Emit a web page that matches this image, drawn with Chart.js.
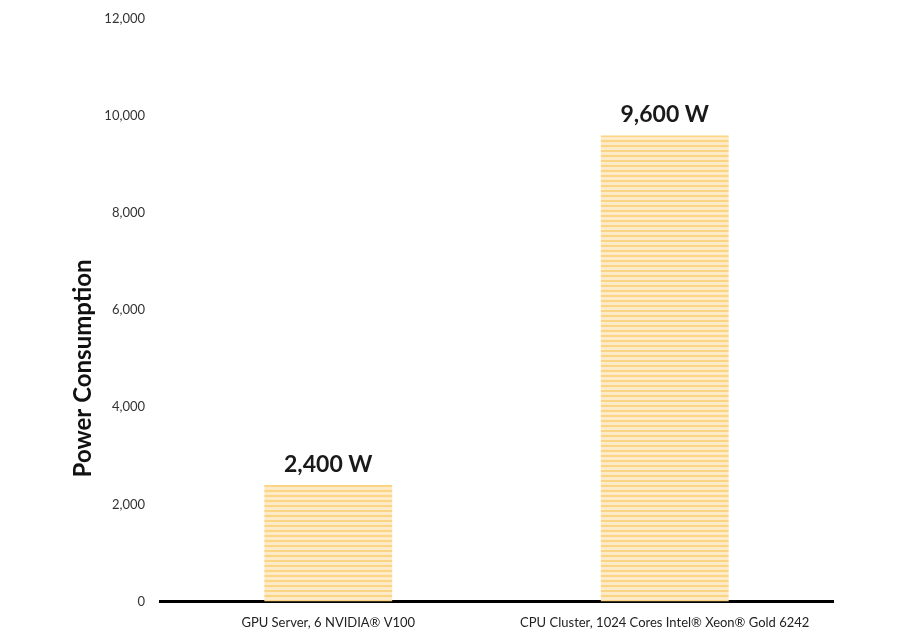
<!DOCTYPE html>
<html>
<head>
<meta charset="utf-8">
<script src="https://cdn.jsdelivr.net/npm/chart.js@4"></script>
<style>
  html, body { margin: 0; padding: 0; background: #fff; }
  #wrap { width: 898px; height: 641px; }
</style>
</head>
<body>
<div id="wrap"><canvas id="myChart" width="898" height="641"></canvas></div>
<script>
const labels = [
    'GPU Server, 6 NVIDIA\u00AE V100',
    'CPU Cluster, 1024 Cores Intel\u00AE Xeon\u00AE Gold 6242'
];
const power = [2400, 9600];
const valueLabels = ['2,400 W', '9,600 W'];
const yTitle = 'Power Consumption';

// striped fill like the original bars
function stripes() {
    const c = document.createElement('canvas');
    c.width = 8;
    c.height = 5;
    const ctx = c.getContext('2d');
    ctx.fillStyle = '#fdebc8';
    ctx.fillRect(0, 0, 8, 5);
    ctx.fillStyle = '#fcd584';
    ctx.fillRect(0, 0, 8, 2);
    return ctx.createPattern(c, 'repeat');
}

const barLabels = {
    id: 'barLabels',
    afterDatasetsDraw(chart) {
        const ctx = chart.ctx;
        const meta = chart.getDatasetMeta(0);
        ctx.save();
        ctx.font = 'bold 23px Lato, "Open Sans", sans-serif';
        ctx.fillStyle = '#1a1a1a';
        ctx.textAlign = 'center';
        ctx.textBaseline = 'bottom';
        meta.data.forEach((bar, i) => {
            ctx.fillText(valueLabels[i], bar.x, bar.y - 9);
        });
        // axis title sits lower than centre in the original
        const y = chart.scales.y;
        ctx.translate(83, y.getPixelForValue(4800));
        ctx.rotate(-Math.PI / 2);
        ctx.font = 'bold 24px Lato, "Open Sans", sans-serif';
        ctx.fillStyle = '#111';
        ctx.textBaseline = 'middle';
        ctx.fillText(yTitle, 0, 0);
        ctx.restore();
    }
};

const data = {
    labels: labels,
    datasets: [{
        data: power,
        backgroundColor: stripes(),
        barPercentage: 0.38,
        categoryPercentage: 1
    }]
};

const config = {
    type: 'bar',
    data: data,
    plugins: [barLabels],
    options: {
        responsive: false,
        animation: false,
        layout: { padding: { top: 19, right: 65, bottom: 4, left: 0 } },
        plugins: {
            legend: { display: false },
            tooltip: { enabled: false }
        },
        scales: {
            x: {
                grid: { display: false },
                border: { display: true, color: '#000', width: 3 },
                ticks: {
                    color: '#222',
                    font: { family: 'Lato, "Open Sans", sans-serif', size: 13 },
                    padding: 6
                }
            },
            y: {
                min: 0,
                max: 12000,
                grid: { display: false },
                border: { display: false },
                afterFit(scale) { scale.width = 160; },
                ticks: {
                    stepSize: 2000,
                    color: '#333',
                    padding: 7,
                    font: { family: 'Lato, "Open Sans", sans-serif', size: 13 },
                    callback: v => v.toLocaleString('en-US')
                }
            }
        }
    }
};

new Chart(document.getElementById('myChart'), config);
</script>
</body>
</html>
